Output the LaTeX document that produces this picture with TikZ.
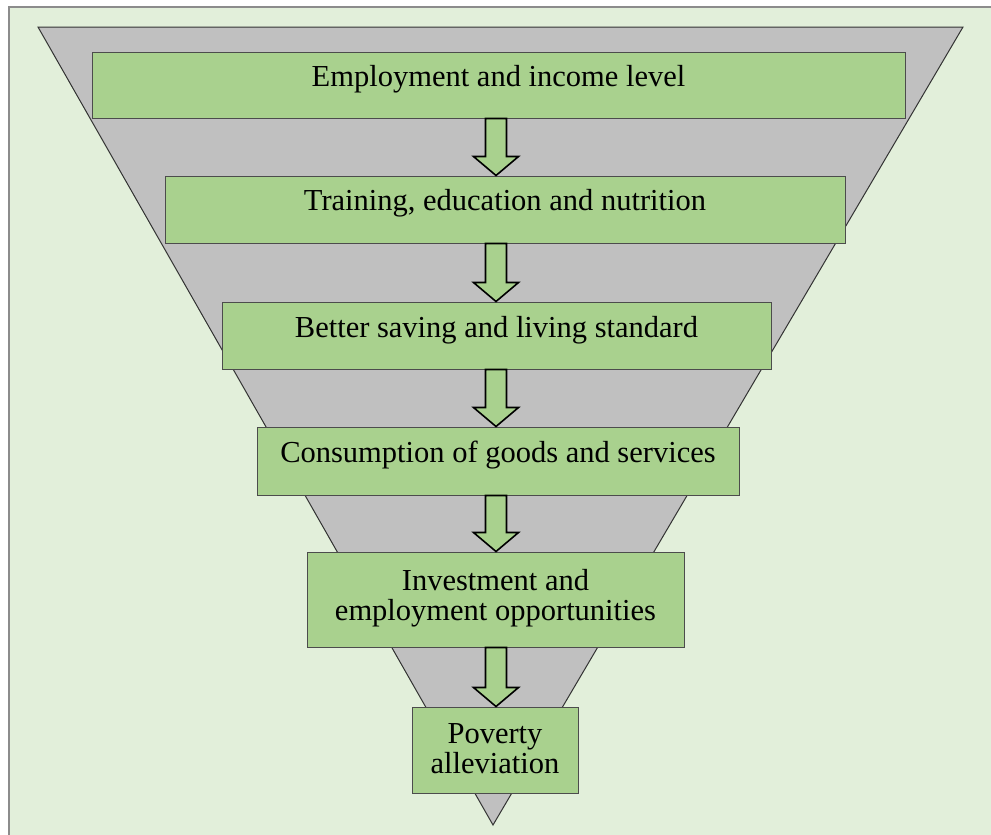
\documentclass[tikz,border=0pt]{standalone}
\usepackage{fontspec}
\setmainfont{Liberation Serif}
\usetikzlibrary{calc}
\definecolor{bgc}{HTML}{E2EFDA}
\definecolor{trig}{HTML}{C0C0C0}
\definecolor{boxg}{HTML}{A9D18E}
\definecolor{frm}{HTML}{8C8C8C}
\tikzset{
  stagebox/.style={draw=black!70, line width=1pt, fill=boxg, inner sep=0pt},
  stagetext/.style={font=\fontsize{30.5}{30}\selectfont, align=center, inner sep=0pt, text=black},
  arr/.style={draw=black, line width=1.6pt, fill=boxg, line join=miter},
}
\newcommand{\blkarrow}[2]{%
  \draw[arr] let \p1=(#1.south -| ax), \p2=(#2.north -| ax) in
    (\x1-10.5pt,\y1) -- (\x1+10.5pt,\y1) -- (\x1+10.5pt,\y2+19pt) -- (\x1+22.5pt,\y2+19pt)
    -- (\x2,\y2) -- (\x1-22.5pt,\y2+19pt) -- (\x1-10.5pt,\y2+19pt) -- cycle;}
\begin{document}
\begin{tikzpicture}[x=1pt,y=-1pt]
\useasboundingbox (0,0) rectangle (991,835);
\fill[bgc] (9,7) rectangle (991,835);
\draw[frm, line width=2pt] (9,835) -- (9,7) -- (991,7);
% funnel
\draw[fill=trig, draw=black!80, line width=1pt, line join=miter] (38,27) -- (963,27) -- (493,825) -- cycle;
\coordinate (ax) at (496,0);
% boxes
\node[stagebox, minimum width=813pt, minimum height=66pt] (b1) at (498.5,85) {};
\node[stagebox, minimum width=680pt, minimum height=67pt] (b2) at (505,209.5) {};
\node[stagebox, minimum width=549pt, minimum height=67pt] (b3) at (496.5,335.5) {};
\node[stagebox, minimum width=482pt, minimum height=68pt] (b4) at (498,461) {};
\node[stagebox, minimum width=377pt, minimum height=95pt] (b5) at (495.5,599.5) {};
\node[stagebox, minimum width=166pt, minimum height=86pt] (b6) at (495,750) {};
% texts
\node[stagetext] (t1) at ([yshift=6pt]b1.center) {Employment and income level};
\node[stagetext] (t2) at ([yshift=6pt]b2.center) {Training, education and nutrition};
\node[stagetext] (t3) at ([yshift=5pt]b3.center) {Better saving and living standard};
\node[stagetext] (t4) at ([yshift=6pt]b4.center) {Consumption of goods and services};
\node[stagetext] (t5) at ([yshift=1pt]b5.center) {Investment and\\employment opportunities};
\node[stagetext] (t6) at ([yshift=1pt]b6.center) {Poverty\\alleviation};
% arrows
\blkarrow{b1}{b2}
\blkarrow{b2}{b3}
\blkarrow{b3}{b4}
\blkarrow{b4}{b5}
\blkarrow{b5}{b6}
\end{tikzpicture}
\end{document}
